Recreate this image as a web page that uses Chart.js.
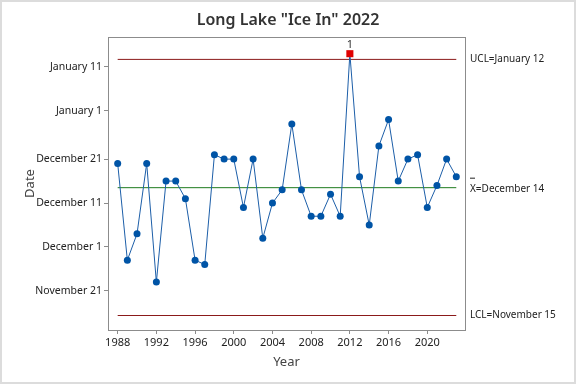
<!DOCTYPE html>
<html>
<head>
<meta charset="utf-8">
<script src="https://cdn.jsdelivr.net/npm/chart.js@4.4.1/dist/chart.umd.min.js"></script>
<style>
  html, body { margin: 0; padding: 0; background: #fff; }
</style>
</head>
<body>
<canvas id="iceChart" width="576" height="384"></canvas>
<script>
// Ice-in dates, counted as days after November 21
const years = [1988, 1989, 1990, 1991, 1992, 1993, 1994, 1995, 1996, 1997, 1998, 1999,
  2000, 2001, 2002, 2003, 2004, 2005, 2006, 2007, 2008, 2009, 2010, 2011,
  2012, 2013, 2014, 2015, 2016, 2017, 2018, 2019, 2020, 2021, 2022, 2023];
const iceInDays = [29, 7, 13, 29, 2, 25, 25, 21, 7, 6, 31, 30,
  30, 19, 30, 12, 20, 23, 38, 23, 17, 17, 22, 17,
  54, 26, 15, 33, 39, 25, 30, 31, 19, 24, 30, 26];

const yTickDays = [0, 10, 20, 30, 41, 51];
const yTickLabels = ["November 21", "December 1", "December 11", "December 21", "January 1", "January 11"];
const xTickYears = [1988, 1992, 1996, 2000, 2004, 2008, 2012, 2016, 2020];

// control limits (days after November 21)
const ucl = 52.7;
const centerLine = 23.5;
const lcl = -5.6;
const uclLabel = "UCL=January 12";
const centerLabel = "X=December 14";
const lclLabel = "LCL=November 15";
const chartTitle = 'Long Lake "Ice In" 2022';

const FONT = "'Noto Sans', 'Open Sans', sans-serif";
const firstYear = years[0];
const lastYear = years[years.length - 1];

function limitLine(value, color) {
  return {
    data: [{ x: firstYear, y: value }, { x: lastYear, y: value }],
    borderColor: color,
    borderWidth: 1,
    pointRadius: 0,
    order: 2
  };
}

// title, frame, outer border and the text labels on the right
const extras = {
  id: 'extras',
  afterDraw(chart) {
    const { ctx, chartArea: a, scales: { x, y } } = chart;
    ctx.save();
    ctx.strokeStyle = '#dcdcdc';
    ctx.lineWidth = 2;
    ctx.strokeRect(1, 1, chart.width - 2, chart.height - 2);

    ctx.strokeStyle = '#8c8c8c';
    ctx.lineWidth = 1;
    ctx.strokeRect(a.left + 0.5, a.top + 0.5, a.right - a.left, a.bottom - a.top);

    ctx.fillStyle = '#333';
    ctx.font = '600 16px ' + FONT;
    ctx.textAlign = 'center';
    ctx.textBaseline = 'middle';
    ctx.fillText(chartTitle, chart.width / 2, 20);

    ctx.fillStyle = '#222';
    ctx.font = '10px ' + FONT;
    ctx.textAlign = 'left';
    const tx = a.right + 5;
    ctx.fillText(uclLabel, tx, y.getPixelForValue(ucl));
    ctx.fillText(lclLabel, tx, y.getPixelForValue(lcl));
    const cy = y.getPixelForValue(centerLine);
    ctx.fillText(centerLabel, tx, cy + 1);
    ctx.fillRect(tx, cy - 10, 5, 1);

    // flag the out of control points
    ctx.textAlign = 'center';
    ctx.textBaseline = 'alphabetic';
    ctx.fillStyle = '#333';
    ctx.font = '11px ' + FONT;
    iceInDays.forEach((d, i) => {
      if (d > ucl || d < lcl) {
        ctx.fillText('1', x.getPixelForValue(years[i]), y.getPixelForValue(d) - 6);
      }
    });
    ctx.restore();
  }
};

new Chart(document.getElementById('iceChart'), {
  type: 'line',
  data: {
    datasets: [
      {
        data: years.map((yr, i) => ({ x: yr, y: iceInDays[i] })),
        borderColor: '#1c5ea8',
        borderWidth: 1,
        pointStyle: c => (c.raw.y > ucl ? 'rect' : 'circle'),
        pointRadius: c => (c.raw.y > ucl ? 5 : 3.5),
        pointBackgroundColor: c => (c.raw.y > ucl ? '#e00000' : '#0054a6'),
        pointBorderColor: c => (c.raw.y > ucl ? '#e00000' : '#0054a6'),
        pointBorderWidth: 0,
        order: 1
      },
      limitLine(ucl, '#8b1a1a'),
      limitLine(centerLine, '#1e7b1e'),
      limitLine(lcl, '#8b1a1a')
    ]
  },
  options: {
    responsive: false,
    animation: false,
    devicePixelRatio: 1,
    layout: { padding: { left: 0, right: 111, top: 37, bottom: 0 } },
    plugins: {
      legend: { display: false },
      tooltip: { enabled: false },
      title: { display: false }
    },
    scales: {
      x: {
        type: 'linear',
        min: 1987.0,
        max: 2023.9,
        afterBuildTicks: s => { s.ticks = xTickYears.map(v => ({ value: v })); },
        afterFit: s => { s.height = 54; },
        ticks: {
          color: '#222',
          font: { family: FONT, size: 11 },
          padding: 2,
          maxRotation: 0,
          callback: v => String(v)
        },
        grid: { drawOnChartArea: false, tickLength: 4, color: '#8c8c8c' },
        border: { color: '#8c8c8c' },
        title: {
          display: true,
          text: 'Year',
          color: '#444',
          font: { family: FONT, size: 13 },
          padding: { top: 0, bottom: 14 }
        }
      },
      y: {
        type: 'linear',
        min: -8.9,
        max: 57.8,
        afterBuildTicks: s => { s.ticks = yTickDays.map(v => ({ value: v })); },
        afterFit: s => { s.width = 108; },
        ticks: {
          color: '#222',
          font: { family: FONT, size: 10.5 },
          padding: 2,
          callback: v => yTickLabels[yTickDays.indexOf(v)]
        },
        grid: { drawOnChartArea: false, tickLength: 4, color: '#8c8c8c' },
        border: { color: '#8c8c8c' },
        title: {
          display: true,
          text: 'Date',
          color: '#444',
          font: { family: FONT, size: 13 },
          padding: { top: 22, bottom: 0 }
        }
      }
    }
  },
  plugins: [extras]
});
</script>
</body>
</html>
